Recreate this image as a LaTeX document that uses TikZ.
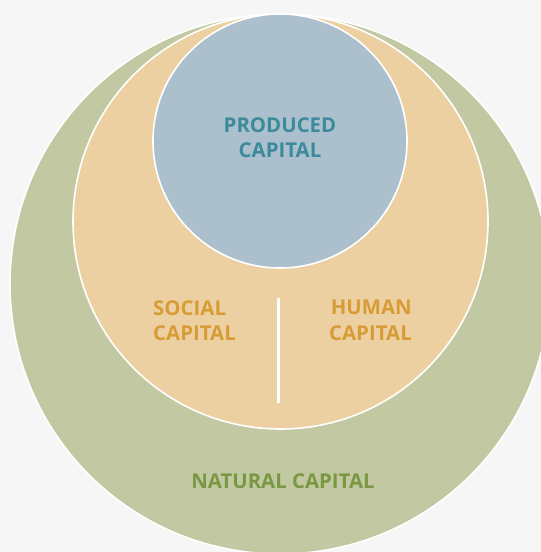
\documentclass[tikz,border=0pt]{standalone}
\usepackage{fontspec}
\setmainfont{Open Sans}
\newfontfamily\capfont{Open Sans}
\usepackage{xcolor}
\usepackage{tikz}
\usetikzlibrary{positioning}

\definecolor{bgGray}{HTML}{F6F6F6}
\definecolor{natFill}{HTML}{C2C9A2}
\definecolor{natText}{HTML}{7A9742}
\definecolor{humFill}{HTML}{ECD0A2}
\definecolor{humText}{HTML}{D89C36}
\definecolor{prodFill}{HTML}{ABC0CC}
\definecolor{prodText}{HTML}{3B8B9D}

\begin{document}
\begin{tikzpicture}[
  x=1pt, y=-1pt,
  ring/.style={circle, draw=white, line width=1.6pt, inner sep=0pt},
  natural/.style={ring, fill=natFill, minimum size=540pt},
  humsoc/.style={ring, fill=humFill, minimum size=415pt},
  produced/.style={ring, fill=prodFill, minimum size=254pt},
  caption/.style={font=\capfont\bfseries\fontsize{20.4}{25.5}\selectfont, inner sep=0pt},
  divider/.style={draw=white, line width=2.6pt}
]
\fill[bgGray] (0,0) rectangle (541,552);
\useasboundingbox (0,0) rectangle (541,552);

\node[natural]  (nat)  at (280,284) {};
\node[humsoc]   (hum)  at (280.5,221.5) {};
\node[produced] (prod) at (280,141) {};

\node[caption, text=prodText, align=center] (prodlbl) at (280,137.5) {PRODUCED\\CAPITAL};
\node[caption, text=humText, align=left, anchor=west] (soclbl) at (153,320.5) {SOCIAL\\CAPITAL};
\node[caption, text=humText, align=right, anchor=east] (humlbl) at (412,320.5) {HUMAN\\CAPITAL};
\node[caption, text=natText] (natlbl) at (283,481) {NATURAL CAPITAL};

\coordinate (divtop) at (278.7,298);
\coordinate (divbot) at (278.7,403);
\draw[divider] (divtop) -- (divbot);
\end{tikzpicture}
\end{document}
